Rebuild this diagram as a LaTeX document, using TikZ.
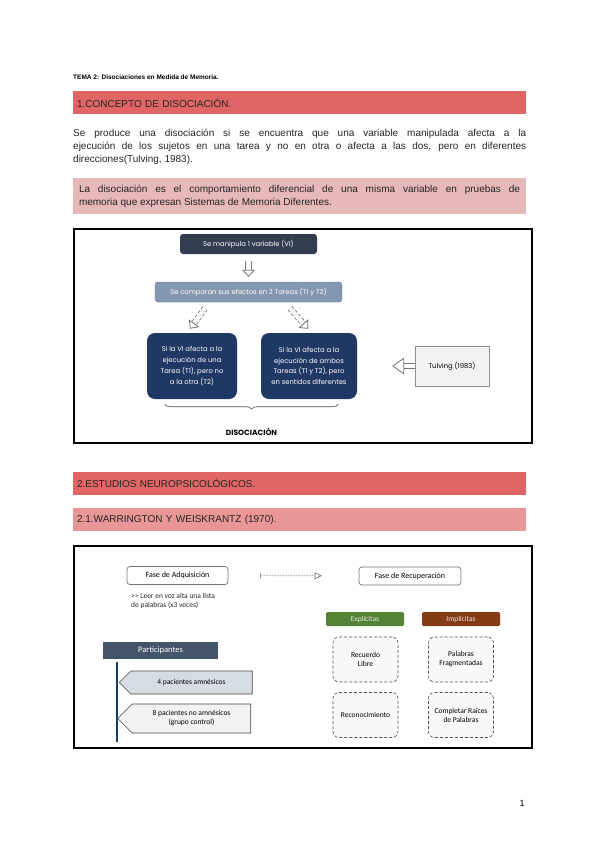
\documentclass[tikz,border=0pt]{standalone}
\usepackage{fontspec}
\setmainfont{Liberation Sans}
\newfontfamily\gothic{Poppins}
\newfontfamily\calib{Carlito}
\usetikzlibrary{arrows.meta,calc,positioning,backgrounds,shapes.symbols,decorations.pathreplacing}
\definecolor{ink}{RGB}{38,38,38}
\definecolor{redbar}{RGB}{224,102,102}
\definecolor{rosebar}{RGB}{233,150,150}
\definecolor{pinkbar}{RGB}{230,184,183}
\definecolor{slatedark}{RGB}{50,62,80}
\definecolor{steel}{RGB}{132,151,176}
\definecolor{navy}{RGB}{31,56,100}
\definecolor{slate}{RGB}{68,84,106}
\definecolor{paleblue}{RGB}{214,220,228}
\definecolor{palegray}{RGB}{242,242,242}
\definecolor{expgreen}{RGB}{84,130,53}
\definecolor{impbrown}{RGB}{133,60,20}
\definecolor{midgray}{RGB}{115,115,115}

\begin{document}
\begin{tikzpicture}[
  x=1pt,y=-1pt,
  font=\fontsize{10}{13}\selectfont,
  secbar/.style={fill=redbar,minimum height=23pt,text width=445pt,
                 inner xsep=4pt,align=left,text=ink},
  subbar/.style={secbar,fill=rosebar},
  quotebar/.style={fill=pinkbar,minimum height=36pt,text width=441pt,
                   inner xsep=6pt,inner ysep=3pt,align=justify,text=ink},
  frame/.style={draw=black,line width=1.8pt},
  box/.style={rounded corners=3pt,inner sep=1pt,align=center,text=white,
              font=\gothic\fontsize{6.8}{10.7}\selectfont},
  darkbox/.style={box,fill=slatedark,minimum width=137pt,minimum height=20pt},
  stepbox/.style={box,fill=steel,draw=steel!80!black,line width=.4pt,
                  minimum width=187pt,minimum height=20pt},
  navybox/.style={box,rounded corners=8pt,fill=navy,minimum height=66pt},
  refbox/.style={draw=midgray!80,fill=palegray,line width=.6pt,minimum width=74pt,
                 minimum height=40pt,font=\gothic\fontsize{6.8}{8}\selectfont},
  hollow/.style={draw=midgray,double=white,double distance=4.5pt,line width=.8pt,
                 -{Triangle[fill=white,line width=.8pt,length=7pt,width=13pt]}},
  note/.style={text=ink,align=left,font=\calib\fontsize{7.5}{9}\selectfont},
  phasebox/.style={draw=midgray,rounded corners=3pt,fill=white,line width=.7pt,
                   minimum height=18pt,font=\calib\fontsize{8}{9}\selectfont},
  tagbox/.style={rounded corners=1.5pt,minimum width=78pt,minimum height=14pt,
                 inner sep=1pt,font=\calib\fontsize{7.5}{8}\selectfont},
  testbox/.style={draw=ink!80,densely dashed,rounded corners=6pt,fill=palegray!55,
                  minimum width=65pt,minimum height=45pt,align=center,
                  line width=.6pt,font=\calib\fontsize{7.5}{9}\selectfont},
  groupbox/.style={signal,signal to=west,draw=ink!85,line width=.6pt,
                   minimum width=133pt,align=center,
                   font=\calib\fontsize{7.5}{9}\selectfont},
  dotflow/.style={draw=ink!70,line width=.6pt,densely dotted,
                  {Bar[width=5pt]}-{Triangle[open,length=7pt,width=7pt]}},
  brace/.style={decorate,decoration={brace,amplitude=5pt},draw=ink!80,line width=.6pt}
]
\useasboundingbox[fill=white] (0,0) rectangle (600,848);

% Page header.
\node[anchor=west,inner sep=0pt,font=\fontsize{6.5}{7}\selectfont\bfseries] (tema)
  at (73,77) {TEMA 2: Disociaciones en Medida de Memoria.};

% Section 1.
\node[secbar] (sec1) at (299.5,103) {1.CONCEPTO DE DISOCIACIÓN.};
\node[anchor=north west,inner sep=0pt,text width=453pt,align=justify,text=ink] (def)
  at (73,128.5)
  {Se produce una disociación si se encuentra que una variable manipulada afecta a la\linebreak
   ejecución de los sujetos en una tarea y no en otra o afecta a las dos, pero en diferentes\linebreak
   direcciones(Tulving, 1983).};
\node[quotebar] (quote) at (299.5,196)
  {La disociación es el comportamiento diferencial de una misma variable en pruebas de\linebreak
   memoria que expresan Sistemas de Memoria Diferentes.};

% First figure.
\draw[frame] (74,229) rectangle (532,443);
\node[darkbox] (manip) at (248.5,244) {Se manipula 1 variable (VI)};
\node[stepbox] (cmp) at (248.5,292) {Se comparan sus efectos en 2 Tareas (T1 y T2)};
\node[navybox,minimum width=90pt] (caseA) at (192,366)
  {Si la VI afecta a la\\ejecución de una\\Tarea (T1), pero no\\a la otra (T2)};
\node[navybox,minimum width=96pt] (caseB) at (309,366)
  {Si la VI afecta a la\\ejecución de ambos\\Tareas (T1 y T2), pero\\en sentidos diferentes};
\node[refbox] (tulving) at (452,366) {Tulving (1983)};

\draw[hollow,shorten <=7pt,shorten >=5pt] (manip) -- (cmp);
\draw[hollow,densely dashed] ($(cmp.south)+(-43.5,6)$) -- ($(caseA.north)+(-2,-4)$);
\draw[hollow,densely dashed] ($(cmp.south)+(41.5,6)$) -- ($(caseB.north)+(-1,-4)$);
\draw[hollow,shorten >=35pt,
  -{Triangle[fill=white,line width=.8pt,length=12pt,width=17pt]}] (tulving) -- (caseB);

\draw[brace] ($(caseB.south east)+(-19,5)$) -- ($(caseA.south west)+(18,5)$)
  node[midway,below=24pt,inner sep=0pt,font=\gothic\fontsize{7.5}{9}\selectfont\bfseries]
  (diso) {DISOCIACIÓN};

% Section 2.
\node[secbar] (sec2) at (299.5,483.5) {2.ESTUDIOS NEUROPSICOLÓGICOS.};
\node[subbar] (sec21) at (299.5,519.5) {2.1.WARRINGTON Y WEISKRANTZ (1970).};

% Second figure.
\draw[frame] (74,546) rectangle (532,748);
\node[phasebox,minimum width=101pt] (acq) at (177.5,575.5) {Fase de Adquisición};
\node[phasebox,minimum width=102pt] (rec) at (410,576) {Fase de Recuperación};
\node[note,anchor=north west,inner sep=0pt] (read) at (131,593)
  {{>}{>} Leer en voz alta una lista\\de palabras (x3 veces)};
\draw[dotflow,shorten <=32pt,shorten >=37pt] (acq) -- (rec);

\node[tagbox,fill=expgreen,text=white!85!expgreen] (expl) at (365,619) {Explícitas};
\node[tagbox,fill=impbrown,text=white!85!impbrown] (impl) at (461,619) {Implícitas};
\node[testbox] (free)  at (365.5,659.5) {Recuerdo\\Libre};
\node[testbox] (frag)  at (461,659.5)   {Palabras\\Fragmentadas};
\node[testbox] (recog) at (365.5,715)   {Reconocimiento};
\node[testbox] (stem)  at (461,715)     {Completar Raíces\\de Palabras};

\node[fill=slate,text=white,minimum width=115pt,minimum height=17pt,
      font=\calib\fontsize{8.5}{9}\selectfont] (part) at (160.5,650.5) {Participantes};
\draw[navy,line width=2.5pt] ($(part.south west)+(14,3)$) -- +(0,80);
\node[groupbox,fill=paleblue,minimum height=23pt] (amn) at (191.5,682.5)
  {4 pacientes amnésicos};
\node[groupbox,fill=palegray,minimum height=29pt] (ctrl) at (191.5,718.5)
  {8 pacientes no amnésicos\\(grupo control)};

% Page number.
\node[font=\fontsize{9}{10}\selectfont] (pnum) at (522,803) {1};

\end{tikzpicture}
\end{document}
